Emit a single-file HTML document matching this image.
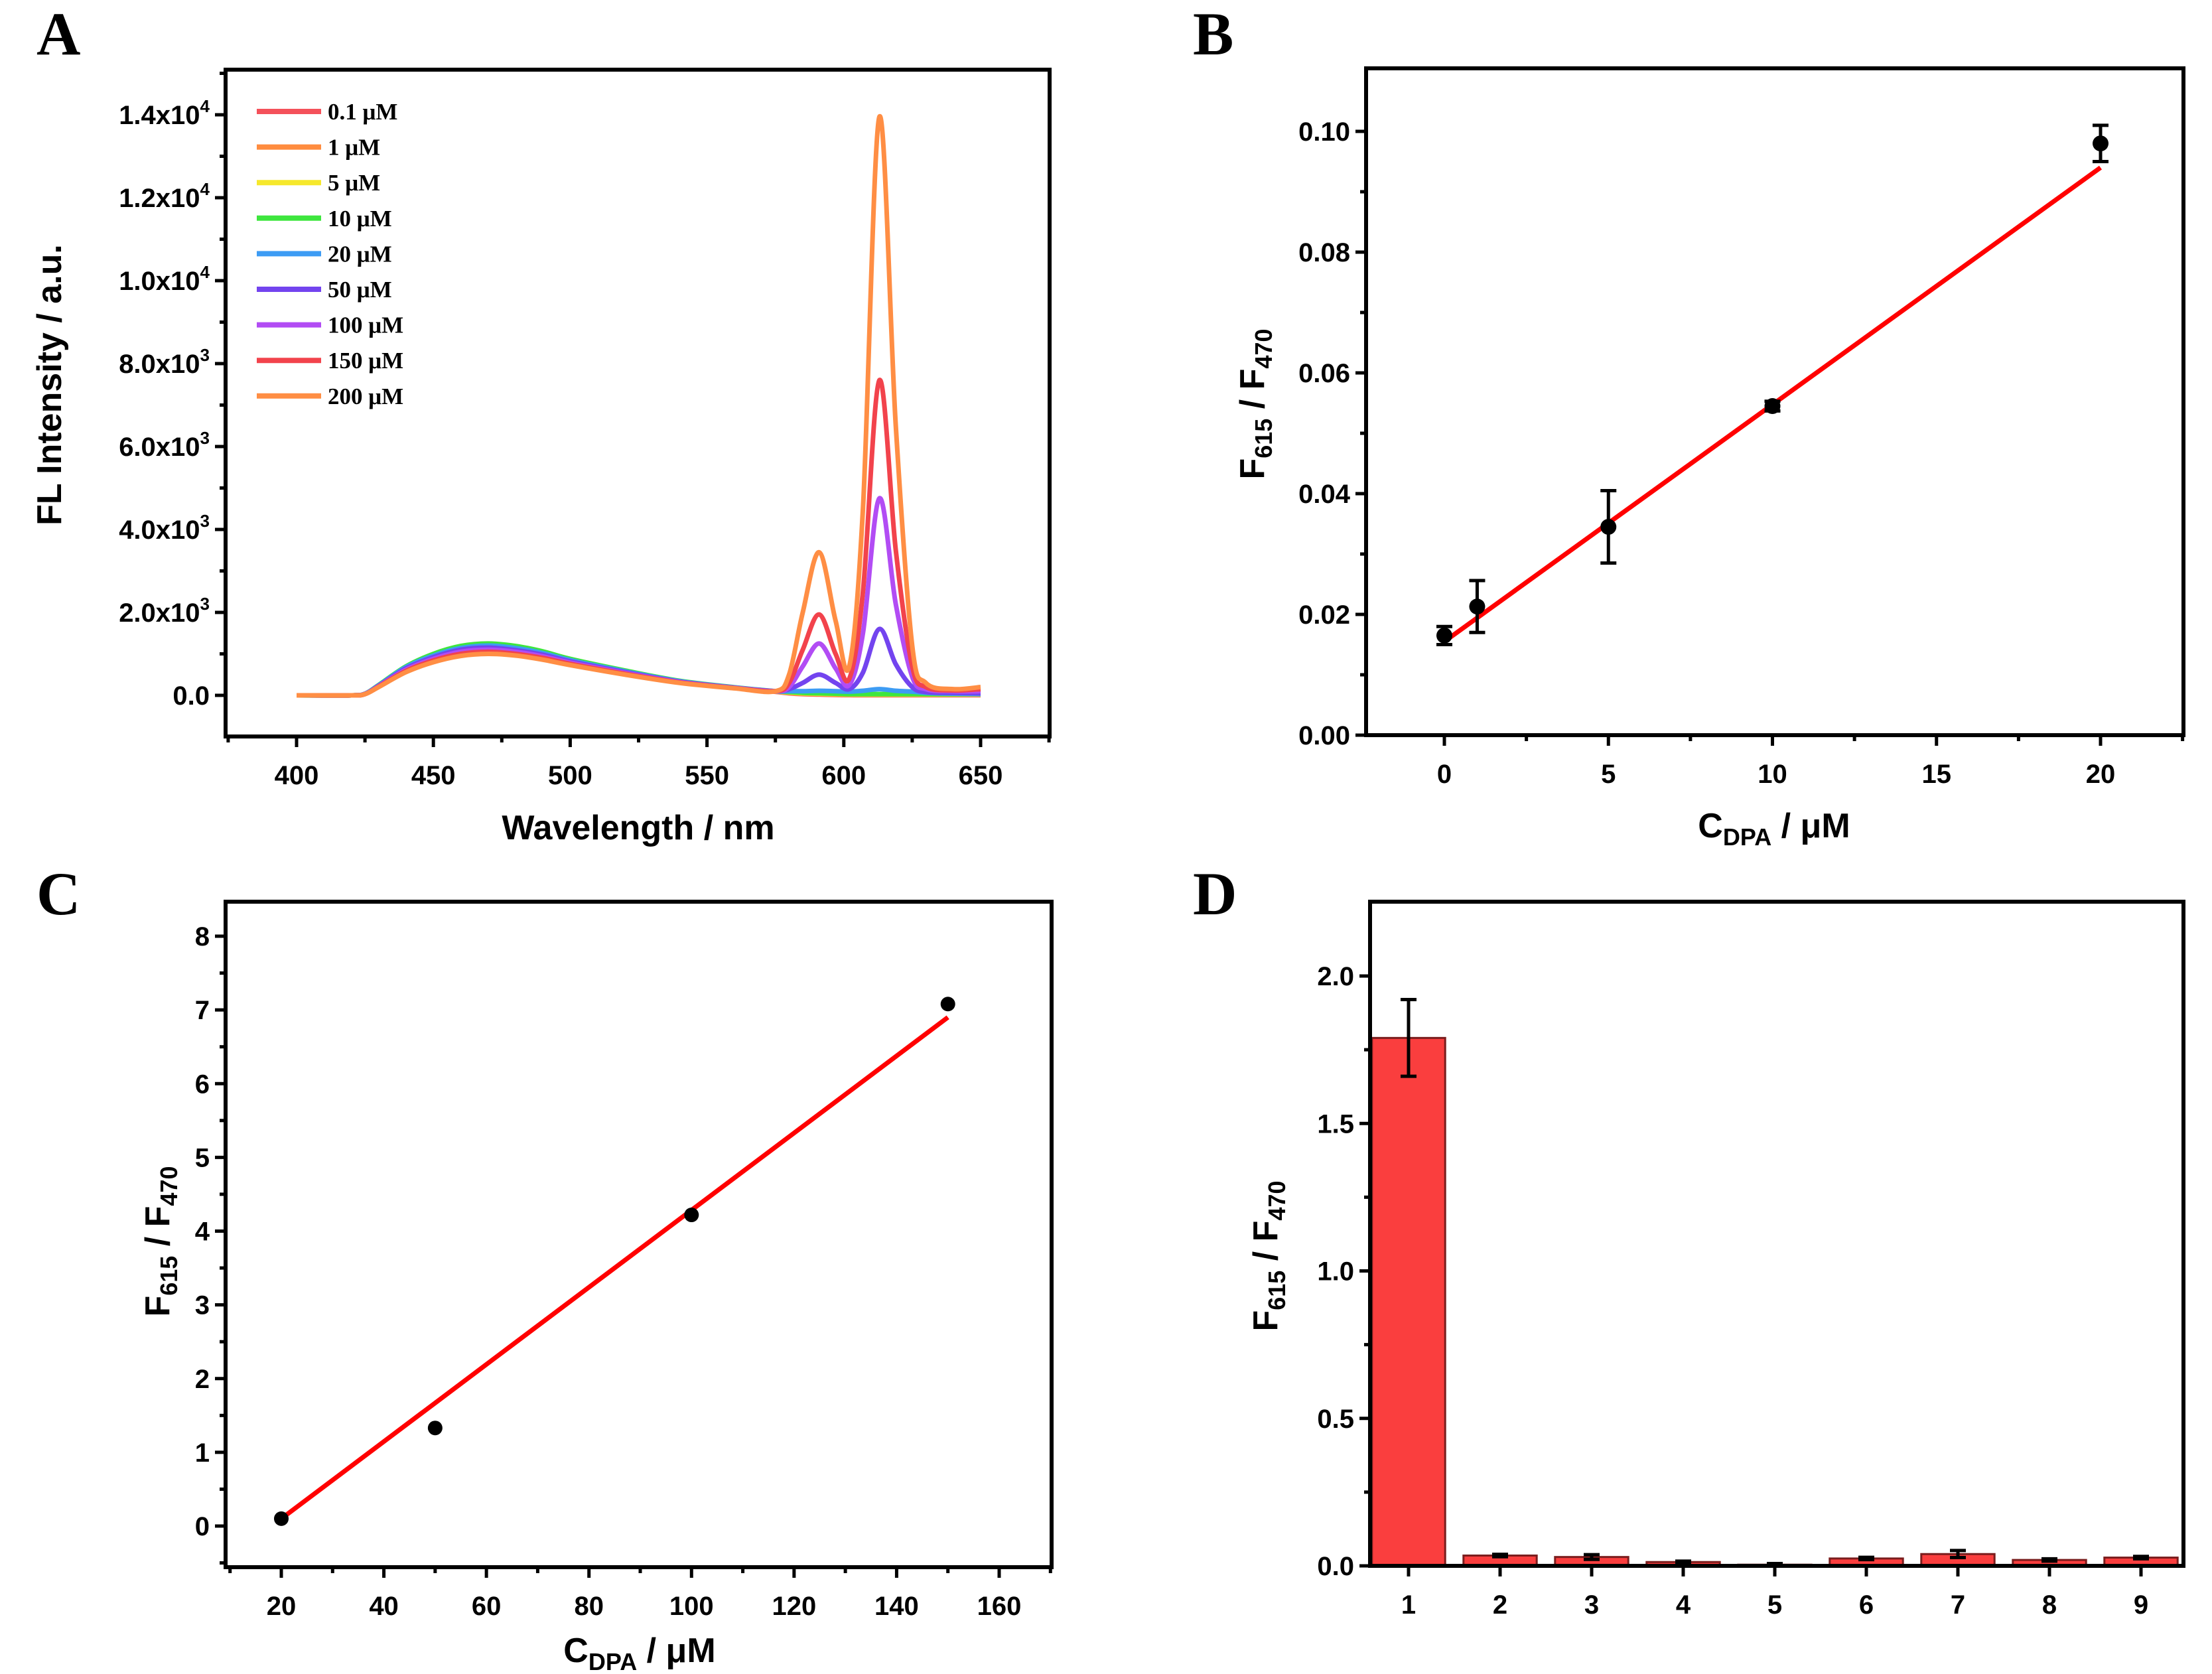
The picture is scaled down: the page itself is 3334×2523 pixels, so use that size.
<!DOCTYPE html>
<html><head><meta charset="utf-8"><style>
html,body{margin:0;padding:0;background:#fff}
svg{display:block}
text{font-family:"Liberation Sans",Arial,sans-serif;font-weight:bold;fill:#000}
.pl{font-family:"Liberation Serif",serif;font-size:92px}
.tk{font-size:40px}
.ti{font-size:52px}
.lg{font-family:"Liberation Serif",serif;font-size:35px;font-weight:bold}
</style></head><body>
<svg id="fig" width="3334" height="2523" viewBox="0 0 3334 2523" xmlns="http://www.w3.org/2000/svg">
<text class="pl" x="55" y="82">A</text>
<text class="pl" x="1798" y="82">B</text>
<text class="pl" x="55" y="1378">C</text>
<text class="pl" x="1798" y="1378">D</text>
<g id="gA"></g>
<g id="gB"></g>
<g id="gC"></g>
<g id="gD"></g>
</svg>
<script>
// ---- Panel A data ----
const wl = [400,420,425,430,440,450,460,470,480,490,500,520,540,560,575,580,585,591,597,602,607,613,619,625,630,640,650];
const seriesNames = ["0.1 μM","1 μM","5 μM","10 μM","20 μM","50 μM","100 μM","150 μM","200 μM"];
const seriesColors = ["#f4515a","#ff8c3f","#f6e82c","#3ee63e","#3d9cf4","#7344ef","#b24cf4","#f2434c","#ff8e44"];
const s01 = [0,0,35,220,620,880,1045,1100,1045,935,775,530,310,175,85,50,30,20,10,5,5,5,5,5,5,5,5];
const s1 = [0,0,37,230,650,920,1095,1150,1095,980,810,555,325,180,90,60,40,30,20,15,15,15,15,15,15,15,15];
const s5 = [0,0,38,235,665,945,1120,1180,1120,1000,830,570,330,185,95,70,50,40,30,20,20,20,20,20,20,20,20];
const s10 = [0,0,40,250,700,1000,1190,1250,1190,1060,880,600,350,195,100,80,60,50,40,30,30,30,30,30,30,30,30];
const s20 = [0,0,40,240,680,960,1140,1200,1140,1020,850,580,340,190,100,100,100,110,100,90,110,150,110,90,60,40,30];
const s50 = [0,0,35,230,650,920,1100,1150,1090,980,820,560,330,185,100,150,300,500,300,150,550,1600,750,200,80,60,50];
const s100 = [0,0,35,220,620,880,1050,1100,1050,940,790,540,320,180,100,200,700,1250,650,250,1500,4750,2200,450,150,100,100];
const s150 = [0,0,30,210,590,840,1000,1050,1000,900,760,520,310,175,100,300,1100,1950,1000,400,2500,7600,3500,700,200,120,150];
const s200 = [0,0,30,200,560,800,950,1000,960,860,730,500,300,170,100,500,2000,3450,1800,700,4500,13950,6500,1200,300,150,200];
const seriesA = [s01,s1,s5,s10,s20,s50,s100,s150,s200];
const ticksAx = [400,450,500,550,600,650];
const ticksAy = [0,2000,4000,6000,8000,10000,12000,14000];
const ticksAyLabel = [["0.0",""],["2.0x10","3"],["4.0x10","3"],["6.0x10","3"],["8.0x10","3"],["1.0x10","4"],["1.2x10","4"],["1.4x10","4"]];
// ---- Panel B data ----
const bX = [0,1,5,10,20];
const bY = [0.0165,0.0213,0.0345,0.0545,0.098];
const bErr = [0.0015,0.0043,0.006,0.0008,0.003];
const bFit = [[0,0.0155],[20,0.094]];
const ticksBx = [0,5,10,15,20];
const ticksBy = [0,0.02,0.04,0.06,0.08,0.10];
const ticksByLabel = ["0.00","0.02","0.04","0.06","0.08","0.10"];
// ---- Panel C data ----
const cX = [20,50,100,150];
const cY = [0.1,1.33,4.22,7.08];
const cFit = [[20,0.1],[150,6.9]];
const ticksCx = [20,40,60,80,100,120,140,160];
const ticksCy = [0,1,2,3,4,5,6,7,8];
// ---- Panel D data ----
const dCats = [1,2,3,4,5,6,7,8,9];
const dVals = [1.79,0.035,0.03,0.013,0.004,0.025,0.04,0.02,0.028];
const dErr = [0.13,0.004,0.008,0.003,0.004,0.004,0.012,0.004,0.004];
const ticksDy = [0,0.5,1.0,1.5,2.0];
const ticksDyLabel = ["0.0","0.5","1.0","1.5","2.0"];

const NS="http://www.w3.org/2000/svg";
function mk(parent,tag,attrs,txt){const e=document.createElementNS(NS,tag);for(const k in attrs)e.setAttribute(k,attrs[k]);if(txt!==undefined)e.textContent=txt;parent.appendChild(e);return e;}
function lin(d0,d1,p0,p1){return v=>p0+(v-d0)*(p1-p0)/(d1-d0);}

function frame(g,L,R,T,B){
  const r=mk(g,'rect',{x:L,y:T,width:R-L,height:B-T,fill:'none',stroke:'#000','stroke-width':6});
  
  
}
function xTick(g,x,B,label,major){
  const l=mk(g,'line',{x1:x,x2:x,y1:B,y2:B+(major?16:9),stroke:'#000','stroke-width':5});
  
  
  if(label!==null){
    const t=mk(g,'text',{x:x,y:B+72,'text-anchor':'middle','class':'tk'},label);
    
    
  }
}
function yTick(g,y,L,label,major){
  const l=mk(g,'line',{x1:L,x2:L-(major?16:9),y1:y,y2:y,stroke:'#000','stroke-width':5});
  
  
  if(label!==null){
    const t=mk(g,'text',{x:L-24,y:y+14,'text-anchor':'end','class':'tk'},label);
    
    
  }
}
function yTitle(g,x,y,parts){
  const t=mk(g,'text',{transform:`translate(${x},${y}) rotate(-90)`,'text-anchor':'middle','class':'ti'});
  
  
  parts.forEach(p=>{const s=mk(t,'tspan',p.sub?{'font-size':'36','dy':'12'}:{'dy':p.dy||'0'},p.t);});
  return t;
}
function xTitleCDPA(g,cx,y){
  const t=mk(g,'text',{x:cx,y:y,'text-anchor':'middle','class':'ti'});
  
  
  mk(t,'tspan',{},'C');mk(t,'tspan',{'font-size':'36',dy:'12'},'DPA');mk(t,'tspan',{dy:'-12'},' / μM');
}
function fTitle(g,x,y){
  yTitle(g,x,y,[{t:'F'},{t:'615',sub:true},{t:' / F',dy:'-12'},{t:'470',sub:true}]);
}
function smoothPath(pts){
  let d=`M${pts[0][0]},${pts[0][1]}`;
  for(let i=0;i<pts.length-1;i++){
    const p0=pts[Math.max(0,i-1)],p1=pts[i],p2=pts[i+1],p3=pts[Math.min(pts.length-1,i+2)];
    const c1=[p1[0]+(p2[0]-p0[0])/6,p1[1]+(p2[1]-p0[1])/6];
    const c2=[p2[0]-(p3[0]-p1[0])/6,p2[1]-(p3[1]-p1[1])/6];
    d+=` C${c1[0]},${c1[1]} ${c2[0]},${c2[1]} ${p2[0]},${p2[1]}`;
  }
  return d;
}

// ===== Panel A =====
(function(){
  const g=document.getElementById('gA');
  const L=340,R=1582,T=105,B=1110;
  const X=lin(400,650,447,1478), Y=lin(0,14000,1048,173);
  seriesA.forEach((s,i)=>{
    const pts=wl.map((w,j)=>[X(w),Y(s[j])]);
    const p=mk(g,'path',{d:smoothPath(pts),fill:'none',stroke:seriesColors[i],'stroke-width':7,'stroke-linejoin':'round'});
    
    
  });
  frame(g,L,R,T,B);
  for(let v=375;v<=675;v+=25){ if(X(v)<L-1||X(v)>R+1)continue; const maj=ticksAx.includes(v); xTick(g,X(v),B,maj?String(v):null,maj);}
  for(let v=-2000;v<=15000;v+=1000){ const y=Y(v); if(y<T||y>B)continue; const idx=ticksAy.indexOf(v); yTick(g,y,L,null,idx>=0);
    if(idx>=0){const t=mk(g,'text',{x:L-24,y:y+14,'text-anchor':'end','class':'tk'});
      
      
      mk(t,'tspan',{},ticksAyLabel[idx][0]); if(ticksAyLabel[idx][1]) mk(t,'tspan',{'font-size':'26',dy:'-18'},ticksAyLabel[idx][1]);}
  }
  yTitle(g,92,580,[{t:'FL Intensity / a.u.'}]);
  const xt=mk(g,'text',{x:962,y:1265,'text-anchor':'middle','class':'ti'},'Wavelength / nm');
  
  
  seriesNames.forEach((n,i)=>{
    const y=168+i*53.6;
    const e=mk(g,'g',{});
    
    
    mk(e,'line',{x1:387,x2:484,y1:y,y2:y,stroke:seriesColors[i],'stroke-width':8});
    mk(e,'text',{x:494,y:y+12,'class':'lg'},n);
  });
})();

// ===== Panel B =====
(function(){
  const g=document.getElementById('gB');
  const L=2059,R=3291,T=103,B=1108;
  const X=lin(0,20,2177,3166), Y=lin(0,0.10,1108,198);
  frame(g,L,R,T,B);
  for(let v=-2.5;v<=22.5;v+=2.5){const x=X(v); if(x<L-1||x>R+1)continue; const maj=ticksBx.includes(v); xTick(g,x,B,maj?String(v):null,maj);}
  for(let k=0;k<=10;k++){const v=k*0.01; const idx=k%2===0?k/2:-1; yTick(g,Y(v),L,idx>=0?ticksByLabel[idx]:null,idx>=0);}
  const f=mk(g,'line',{x1:X(bFit[0][0]),y1:Y(bFit[0][1]),x2:X(bFit[1][0]),y2:Y(bFit[1][1]),stroke:'#ff0000','stroke-width':7});
  
  
  bX.forEach((x,i)=>{
    const cx=X(x),y1=Y(bY[i]+bErr[i]),y2=Y(bY[i]-bErr[i]);
    const e=mk(g,'path',{d:`M${cx},${y1}V${y2}M${cx-12},${y1}H${cx+12}M${cx-12},${y2}H${cx+12}`,stroke:'#000','stroke-width':5,fill:'none'});
    
    
    const c=mk(g,'circle',{cx:cx,cy:Y(bY[i]),r:12,fill:'#000'});
    
    
  });
  fTitle(g,1905,609);
  xTitleCDPA(g,2674,1262);
})();

// ===== Panel C =====
(function(){
  const g=document.getElementById('gC');
  const L=340,R=1585,T=1359,B=2362;
  const X=lin(20,160,424,1506), Y=lin(0,8,2300,1411);
  frame(g,L,R,T,B);
  for(let v=10;v<=170;v+=10){const x=X(v); if(x<L-1||x>R+1)continue; const maj=ticksCx.includes(v); xTick(g,x,B,maj?String(v):null,maj);}
  for(let v=-0.5;v<=8.5;v+=0.5){const y=Y(v); if(y<T||y>B)continue; const maj=Number.isInteger(v); yTick(g,y,L,maj?String(v):null,maj);}
  const f=mk(g,'line',{x1:X(cFit[0][0]),y1:Y(cFit[0][1]),x2:X(cFit[1][0]),y2:Y(cFit[1][1]),stroke:'#ff0000','stroke-width':7});
  
  
  cX.forEach((x,i)=>{
    const c=mk(g,'circle',{cx:X(x),cy:Y(cY[i]),r:11,fill:'#000'});
    
    
  });
  fTitle(g,255,1871);
  xTitleCDPA(g,964,2505);
})();

// ===== Panel D =====
(function(){
  const g=document.getElementById('gD');
  const L=2065,R=3291,T=1359,B=2360;
  const X=lin(1,9,2123,3227), Y=lin(0,2.0,2360,1471);
  const bw=(X(2)-X(1))*0.8;
  dCats.forEach((c,i)=>{
    const x=X(c),y=Y(dVals[i]);
    const r=mk(g,'rect',{x:x-bw/2,y:y,width:bw,height:B-y,fill:'#fa3e3e',stroke:'#7a1d1d','stroke-width':3});
    
    
    const y1=Y(dVals[i]+dErr[i]),y2=Y(Math.max(0,dVals[i]-dErr[i]));
    const e=mk(g,'path',{d:`M${x},${y1}V${y2}M${x-12},${y1}H${x+12}M${x-12},${y2}H${x+12}`,stroke:'#000','stroke-width':5,fill:'none'});
    
    
  });
  frame(g,L,R,T,B);
  dCats.forEach(c=>xTick(g,X(c),B,String(c),true));
  for(let k=0;k<=8;k++){const v=k*0.25; const maj=k%2===0; yTick(g,Y(v),L,maj?ticksDyLabel[k/2]:null,maj);}
  fTitle(g,1925,1893);
})();
</script>
</body></html>
